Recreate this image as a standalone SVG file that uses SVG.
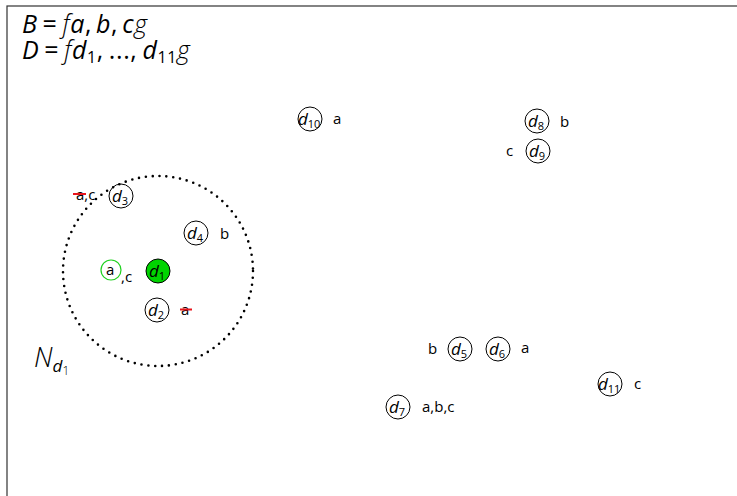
<svg xmlns="http://www.w3.org/2000/svg" width="737" height="496" viewBox="0 0 737 496">
<style>
.frame{fill:none;stroke:#333;stroke-width:1.2}
.nd{fill:#fff;stroke:#000;stroke-width:1}
.lbl{font-family:"Open Sans","DejaVu Sans",sans-serif;font-size:15px;fill:#000}
.dl{font-family:"Open Sans","DejaVu Sans",sans-serif;font-size:17px;font-style:italic;fill:#000}
.sub{font-size:11px;font-style:normal}
.title{font-family:"Open Sans","DejaVu Sans",sans-serif;font-size:25px;fill:#000;letter-spacing:0.6px}
.strike{stroke:#e8141b;stroke-width:2}
</style>
<rect class="frame" x="7" y="6" width="760" height="520"/>
<g id="title">
<text class="title" x="22" y="33"><tspan font-style="italic">B</tspan><tspan dx="5">=</tspan><tspan dx="5" font-style="italic" font-weight="300">f</tspan><tspan font-style="italic">a</tspan>,<tspan dx="4" font-style="italic">b</tspan>,<tspan dx="4" font-style="italic">c</tspan><tspan font-style="italic" font-weight="300">g</tspan></text>
<text class="title" x="22" y="59"><tspan font-style="italic">D</tspan><tspan dx="5">=</tspan><tspan dx="5" font-style="italic" font-weight="300">f</tspan><tspan font-style="italic">d</tspan><tspan font-size="16" dy="4">1</tspan><tspan dy="-4">,</tspan><tspan dx="5">...,</tspan><tspan dx="5" font-style="italic">d</tspan><tspan font-size="16" dy="4">11</tspan><tspan font-style="italic" font-weight="300" dy="-4">g</tspan></text>
</g>
<g id="neighbourhood">
<circle cx="158" cy="271" r="95" fill="none" stroke="#000" stroke-width="2.6" stroke-linecap="round" stroke-dasharray="0 6.9"/>
<text x="34" y="367" font-family="Open Sans, DejaVu Sans, sans-serif" font-size="27" font-style="italic" font-weight="300">N<tspan font-size="17" font-weight="400" dy="5">d</tspan><tspan font-size="12" font-style="normal" dy="3">1</tspan></text>
</g>
<g id="connectors"/>
<g id="d1">
<circle cx="158" cy="271" r="12" fill="#00d400" stroke="#000"/>
<text class="dl" x="149" y="277">d<tspan class="sub" dy="3">1</tspan></text>
<circle cx="111" cy="270" r="10" fill="none" stroke="#1fd11f" stroke-width="1.2"/>
<text class="lbl" x="106" y="275">a</text>
<text class="lbl" x="121" y="282">,c</text>
</g>
<g id="d2">
<circle class="nd" cx="157" cy="310" r="12"/>
<text class="dl" x="148" y="316">d<tspan class="sub" dy="3">2</tspan></text>
<text class="lbl" x="181" y="315">a</text>
<line class="strike" x1="180" y1="309.5" x2="192" y2="309.5"/>
</g>
<g id="d3">
<circle cx="121" cy="196" r="12" fill="none" stroke="#000"/>
<text class="dl" x="112" y="202">d<tspan class="sub" dy="3">3</tspan></text>
<text class="lbl" x="76" y="200">a,c</text>
<line class="strike" x1="73" y1="194" x2="86" y2="194"/>
</g>
<g id="d4">
<circle class="nd" cx="196" cy="233" r="12"/>
<text class="dl" x="187" y="239">d<tspan class="sub" dy="3">4</tspan></text>
<text class="lbl" x="220" y="239">b</text>
</g>
<g id="d5">
<circle class="nd" cx="460" cy="349" r="12"/>
<text class="dl" x="451" y="355">d<tspan class="sub" dy="3">5</tspan></text>
<text class="lbl" x="428" y="354">b</text>
</g>
<g id="d6">
<circle class="nd" cx="498" cy="349" r="12"/>
<text class="dl" x="489" y="355">d<tspan class="sub" dy="3">6</tspan></text>
<text class="lbl" x="521" y="353">a</text>
</g>
<g id="d7">
<circle class="nd" cx="398" cy="407" r="12"/>
<text class="dl" x="389" y="413">d<tspan class="sub" dy="3">7</tspan></text>
<text class="lbl" x="422" y="412">a,b,c</text>
</g>
<g id="d8">
<circle class="nd" cx="537" cy="121" r="12"/>
<text class="dl" x="528" y="127">d<tspan class="sub" dy="3">8</tspan></text>
<text class="lbl" x="560" y="127">b</text>
</g>
<g id="d9">
<circle class="nd" cx="538" cy="151" r="12"/>
<text class="dl" x="529" y="157">d<tspan class="sub" dy="3">9</tspan></text>
<text class="lbl" x="506" y="156">c</text>
</g>
<g id="d10">
<circle class="nd" cx="310" cy="119" r="12"/>
<text class="dl" x="298" y="125">d<tspan class="sub" dy="3">10</tspan></text>
<text class="lbl" x="333" y="124">a</text>
</g>
<g id="d11">
<circle class="nd" cx="610" cy="384" r="12"/>
<text class="dl" x="598" y="390">d<tspan class="sub" dy="3">11</tspan></text>
<text class="lbl" x="634" y="389">c</text>
</g>
</svg>
